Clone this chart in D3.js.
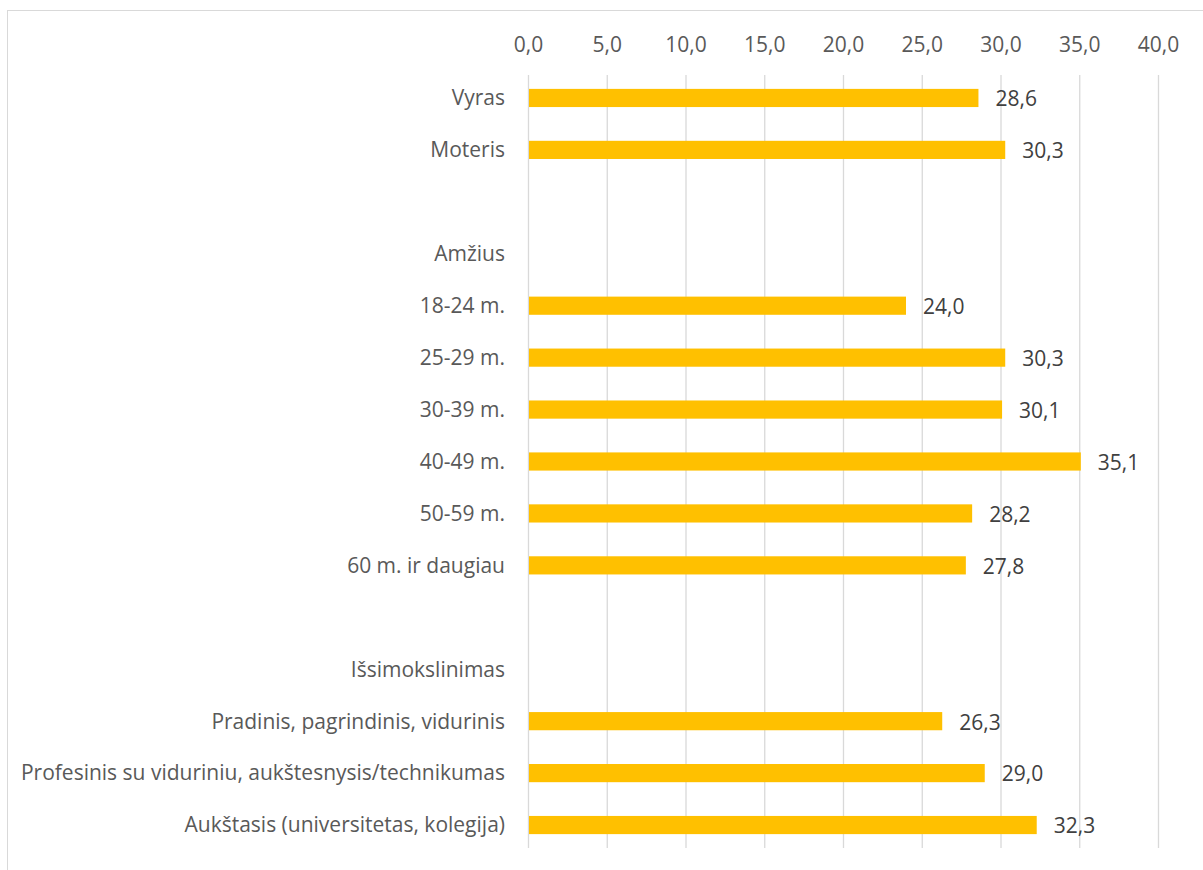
<!DOCTYPE html>
<html>
<head>
<meta charset="utf-8">
<script src="https://cdn.jsdelivr.net/npm/d3@7"></script>
<style>
  body { margin: 0; background: #fff; }
  text { font-family: "Open Sans", sans-serif; }
</style>
</head>
<body>
<div id="chart"></div>
<script>
// Row labels, top to bottom (blank rows are spacers)
var categories = ["Vyras", "Moteris", "", "Amžius", "18-24 m.", "25-29 m.", "30-39 m.",
                  "40-49 m.", "50-59 m.", "60 m. ir daugiau", "", "Išsimokslinimas",
                  "Pradinis, pagrindinis, vidurinis",
                  "Profesinis su viduriniu, aukštesnysis/technikumas",
                  "Aukštasis (universitetas, kolegija)"];
var values = [28.6, 30.3, null, null, 24.0, 30.3, 30.1, 35.1, 28.2, 27.8, null, null, 26.3, 29.0, 32.3];
var ticks = [0, 5, 10, 15, 20, 25, 30, 35, 40];

var width = 1203, height = 870;
var fontSize = "21px";

var rows = categories.map(function(c, i) {
    return { id: "r" + i, label: c, value: values[i] };
});

var locale = d3.formatLocale({ decimal: ",", thousands: " ", grouping: [3], currency: ["", ""] });
var fmt = locale.format(".1f");

var svg = d3.select("#chart")
            .append("svg")
            .attr("width", width)
            .attr("height", height);

// chart border (runs off the right/bottom edge like the source)
svg.append("rect")
   .attr("x", 7.5).attr("y", 10.5)
   .attr("width", 1220).attr("height", 900)
   .attr("fill", "none")
   .attr("stroke", "#d9d9d9");

var x = d3.scaleLinear().domain([0, 40]).range([528, 1158]);
var y = d3.scaleBand()
          .domain(rows.map(function(d) { return d.id; }))
          .range([72, 851])
          .paddingInner(0.65)
          .paddingOuter(0.325);

// gridlines
svg.append("g")
   .selectAll("line")
   .data(ticks)
   .enter()
   .append("line")
   .attr("x1", function(d) { return x(d) + 0.5; })
   .attr("x2", function(d) { return x(d) + 0.5; })
   .attr("y1", 75)
   .attr("y2", 848)
   .attr("stroke", "#d9d9d9")
   .attr("stroke-width", 1.3);

// top axis labels
var axis = svg.append("g")
   .attr("transform", "translate(0,52)")
   .call(d3.axisTop(x).tickValues(ticks).tickFormat(fmt).tickSize(0).tickPadding(0));
axis.select(".domain").remove();
axis.selectAll("text")
    .attr("fill", "#595959")
    .style("font-size", fontSize)
    .style("font-family", "'Open Sans', sans-serif");

// bars
svg.append("g")
   .selectAll("rect")
   .data(rows.filter(function(d) { return d.value != null; }))
   .enter()
   .append("rect")
   .attr("x", x(0) + 1)
   .attr("y", function(d) { return y(d.id); })
   .attr("width", function(d) { return x(d.value) - x(0) - 1; })
   .attr("height", y.bandwidth())
   .attr("fill", "#ffc000");

// value labels
svg.append("g")
   .selectAll("text")
   .data(rows.filter(function(d) { return d.value != null; }))
   .enter()
   .append("text")
   .attr("x", function(d) { return x(d.value) + 17; })
   .attr("y", function(d) { return y(d.id) + y.bandwidth() / 2 + 1; })
   .attr("dy", "0.35em")
   .attr("fill", "#404040")
   .style("font-size", fontSize)
   .text(function(d) { return fmt(d.value); });

// category labels
svg.append("g")
   .selectAll("text")
   .data(rows)
   .enter()
   .append("text")
   .attr("x", 505)
   .attr("y", function(d) { return y(d.id) + y.bandwidth() / 2; })
   .attr("dy", "0.35em")
   .attr("text-anchor", "end")
   .attr("fill", "#595959")
   .style("font-size", fontSize)
   .text(function(d) { return d.label; });
</script>
</body>
</html>
